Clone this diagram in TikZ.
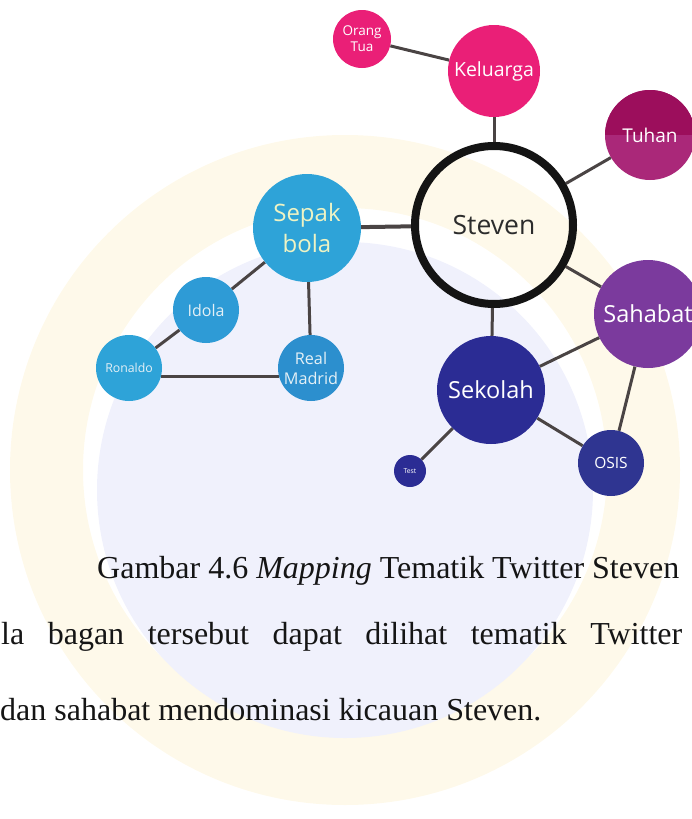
\documentclass[tikz,border=0pt]{standalone}
\usepackage{fontspec}
\setmainfont{Liberation Serif}
\newfontfamily\labelfont{Open Sans}
\usetikzlibrary{backgrounds}

\definecolor{wmyellow}{HTML}{FEF9EA}
\definecolor{wmblue}{HTML}{F0F1FC}
\definecolor{edgegray}{HTML}{4A4444}
\definecolor{ringblack}{HTML}{141414}
\definecolor{famPink}{HTML}{EA1F77}
\definecolor{godTop}{HTML}{9C0E5C}
\definecolor{godLow}{HTML}{AA2879}
\definecolor{ballBlue}{HTML}{2EA3D8}
\definecolor{idolBlue}{HTML}{2E9BD6}
\definecolor{madridBlue}{HTML}{2C8FCE}
\definecolor{friendPurple}{HTML}{7B3A9D}
\definecolor{schoolBlue}{HTML}{2B2C94}
\definecolor{osisBlue}{HTML}{2F3591}
\definecolor{creamText}{HTML}{EEF3C4}
\definecolor{paleText}{HTML}{E4F0F6}
\definecolor{bodyText}{HTML}{151515}

\begin{document}
\begin{tikzpicture}[x=1pt,y=-1pt,
  bubble/.style={circle, fill=#1, inner sep=0pt, align=center, text=white},
  fs/.style 2 args={font=\labelfont\fontsize{#1}{#2}\selectfont},
  link/.style={draw=edgegray, line width=3pt},
  bodyline/.style={anchor=base west, inner sep=0pt, text=bodyText,
    font=\fontsize{32}{38}\selectfont},
]
\useasboundingbox (0,0) rectangle (691,819);

% topic bubbles
\node[bubble=famPink, minimum size=58pt, fs={13.5}{16}] (ot) at (362,39) {Orang\\Tua};
\node[bubble=famPink, minimum size=92pt, fs={19.5}{23}] (ke) at (494,71) {Keluarga};
\node[bubble=godLow, minimum size=90pt, fs={19}{22},
  path picture={\fill[godTop] (path picture bounding box.north west)
    rectangle (path picture bounding box.east);}] (tu) at (650,135) {Tuhan};
\node[circle, draw=ringblack, line width=8pt, minimum size=158pt, inner sep=0pt,
  text=ringblack!90, fs={26.5}{30}] (st) at (494,225) {Steven};
\node[bubble=ballBlue, minimum size=108pt, text=creamText, fs={24}{31}] (sb) at (307,228) {Sepak\\bola};
\node[bubble=idolBlue, minimum size=66pt, text=paleText, fs={16}{19}] (id) at (206,310) {Idola};
\node[bubble=ballBlue, minimum size=66pt, text=paleText, fs={12.3}{14}] (ro) at (129,368) {Ronaldo};
\node[bubble=madridBlue, minimum size=66pt, text=paleText, fs={16.2}{20}] (rm) at (311,368) {Real\\Madrid};
\node[bubble=friendPurple, minimum size=108pt, fs={23.5}{27}] (sa) at (648,314) {Sahabat};
\node[bubble=schoolBlue, minimum size=108pt, fs={23.5}{27}] (se) at (491,390) {Sekolah};
\node[bubble=osisBlue, minimum size=66pt, fs={15.5}{18}] (os) at (611,463) {OSIS};
\node[bubble=schoolBlue, minimum size=32pt, fs={6.8}{8}] (te) at (410,471) {Test};

% caption and body text
\node[bodyline] (cap) at (97,578) {Gambar 4.6 \textit{Mapping} Tematik Twitter Steven};
\node[bodyline] (l2) at (1,644) {\hbox to 681pt{la\hfill bagan\hfill tersebut\hfill
  dapat\hfill dilihat\hfill tematik\hfill Twitter}};
\node[bodyline] (l3) at (0,720) {dan sahabat mendominasi kicauan Steven.};

\begin{pgfonlayer}{background}
  % faint emblem behind the page
  \fill[wmyellow, even odd rule] (345,470) circle (335pt) (345,470) circle (262pt);
  \fill[wmblue] (345,490) circle (248pt);
  % connectors
  \draw[link] (ot) -- (ke);
  \draw[link] (ke) -- (st);
  \draw[link] (st) -- (tu);
  \draw[link, line width=4pt] (st) -- (sb);
  \draw[link] (st) -- (sa);
  \draw[link] (st) -- (se);
  \draw[link] (sb) -- (id);
  \draw[link] (sb) -- (rm);
  \draw[link] (id) -- (ro);
  \draw[link] (ro.-14) -- (rm.194);
  \draw[link] (se) -- (sa);
  \draw[link] (se) -- (os);
  \draw[link] (se) -- (te);
  \draw[link] (sa) -- (os);
\end{pgfonlayer}
\end{tikzpicture}
\end{document}
